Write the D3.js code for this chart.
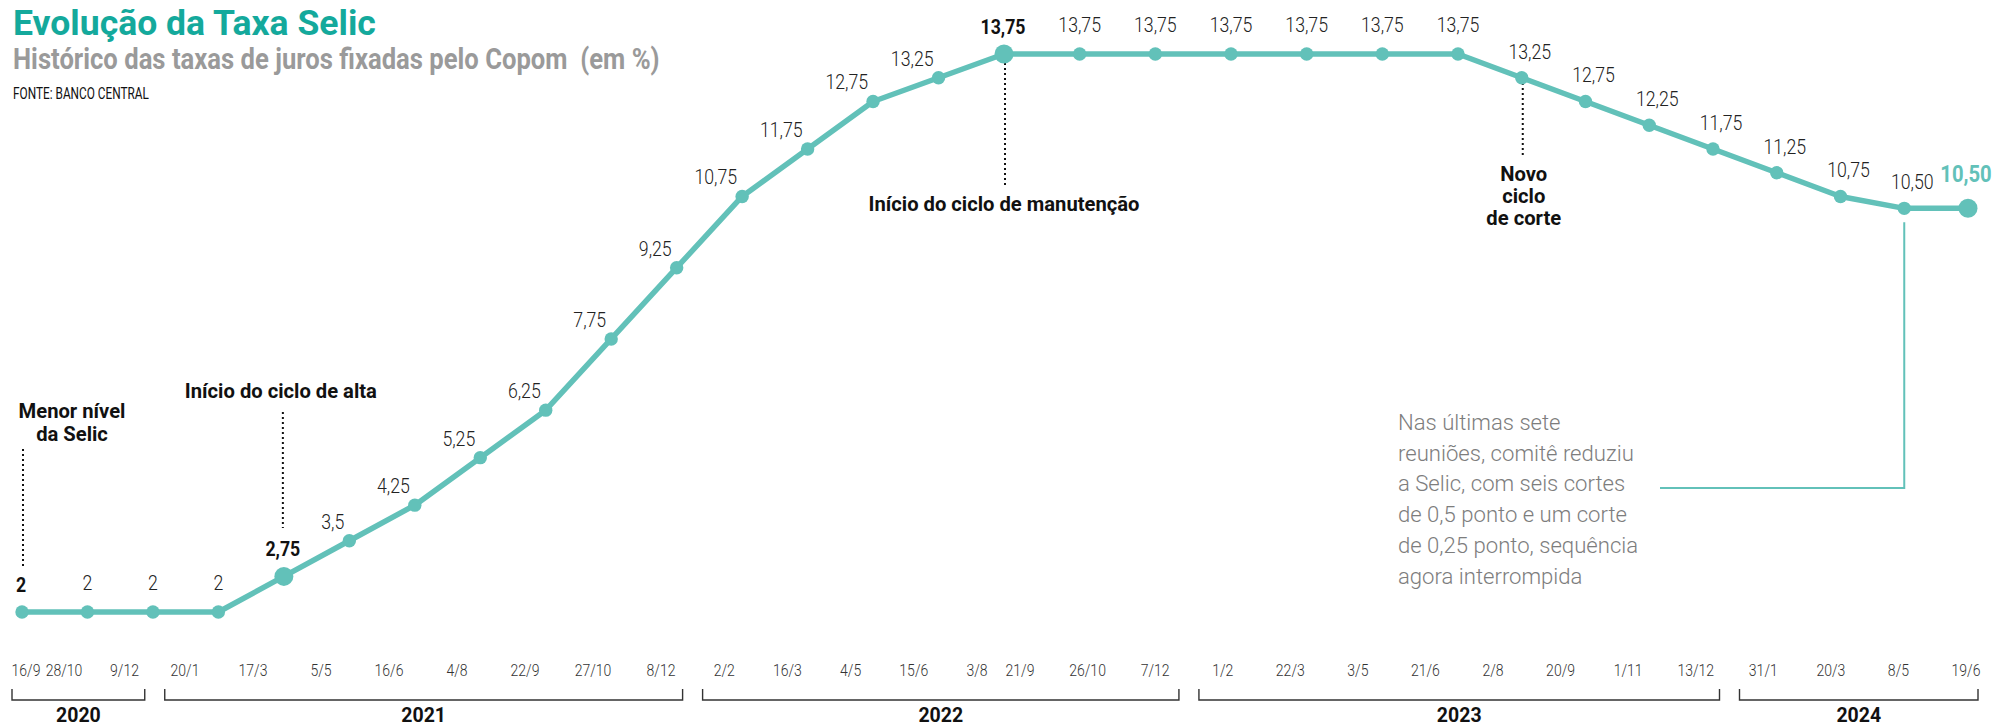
<!DOCTYPE html>
<html><head><meta charset="utf-8">
<script src="https://cdn.jsdelivr.net/npm/d3@7"></script>
<style>html,body{margin:0;padding:0;background:#fff}svg{display:block}text{white-space:pre}</style>
</head><body>
<svg id="chart" width="1996" height="727"></svg>
<script>
// ---------- data ----------
const values = [2,2,2,2,2.75,3.5,4.25,5.25,6.25,7.75,9.25,10.75,11.75,12.75,13.25,13.75,13.75,13.75,13.75,13.75,13.75,13.75,13.25,12.75,12.25,11.75,11.25,10.75,10.50,10.50];
const valueText = ["2","2","2","2","2,75","3,5","4,25","5,25","6,25","7,75","9,25","10,75","11,75","12,75","13,25","13,75","13,75","13,75","13,75","13,75","13,75","13,75","13,25","12,75","12,25","11,75","11,25","10,75","10,50","10,50"];
const dates = ["16/9","28/10","9/12","20/1","17/3","5/5","16/6","4/8","22/9","27/10","8/12","2/2","16/3","4/5","15/6","3/8","21/9","26/10","7/12","1/2","22/3","3/5","21/6","2/8","20/9","1/11","13/12","31/1","20/3","8/5","19/6"];
const years = ["2020","2021","2022","2023","2024"];
const yearCounts = [3,8,8,8,4];
const highlighted = [0,4,15,29];
const bigDots = [4,15,29];
const title = "Evolução da Taxa Selic";
const subtitle = "Histórico das taxas de juros fixadas pelo Copom  (em %)";
const source = "FONTE: BANCO CENTRAL";
const note = ["Nas últimas sete","reuniões, comitê reduziu","a Selic, com seis cortes","de 0,5 ponto e um corte","de 0,25 ponto, sequência","agora interrompida"];

// ---------- styles ----------
const TEAL = "#62c1b9", TITLE_TEAL = "#14a99c", INK = "#1a1a1a";
const FONT = "Roboto, 'Noto Sans', sans-serif";

const svg = d3.select("#chart");
svg.append("rect").attr("width",1996).attr("height",727).attr("fill","#fff");

function measure(str, size, weight){
  const t = svg.append("text").attr("font-family",FONT).attr("font-size",size).attr("font-weight",weight).text(str);
  const w = t.node().getComputedTextLength(); t.remove(); return w;
}
function txt(str, x, y, o){
  return svg.append("text")
    .attr("transform",`translate(${x},${y}) scale(${o.sx||1},1)`)
    .attr("font-family",FONT).attr("font-size",o.size).attr("font-weight",o.weight||400)
    .attr("fill",o.fill||INK).attr("text-anchor",o.anchor||"start").text(str);
}

// ---------- scales ----------
const x = d3.scaleLinear().domain([0,15,21,29]).range([22,1004,1458,1968]);
const y = d3.scaleLinear().domain([2,13.75]).range([612,54]);
const xd = d3.scaleLinear().domain([0,1,3,10,15,16,30]).range([26,64,185,661,977,1020,1966]);

// ---------- header ----------
txt(title, 13, 35, {size:35, weight:700, fill:TITLE_TEAL, sx:363/measure(title,35,700)});
txt(subtitle, 13, 68.5, {size:30, weight:700, fill:"#9a9a9a", sx:647/measure(subtitle,30,700)});
txt(source, 13, 99.3, {size:16, weight:400, fill:"#111", sx:136/measure(source,16,400)});

// ---------- annotations ----------
const annSx = 271/measure("Início do ciclo de manutenção",21,700);
const ann = {size:21, weight:700, fill:"#111", anchor:"middle", sx:annSx};
function dotted(xx, y1, y2){
  svg.append("line").attr("x1",xx).attr("x2",xx).attr("y1",y1).attr("y2",y2)
    .attr("stroke","#111").attr("stroke-width",2).attr("stroke-dasharray","2,3");
}
txt("Menor nível", x(0)+50, 418, ann);
txt("da Selic", x(0)+50, 441, ann);
dotted(x(0)+1, 449, 567);
txt("Início do ciclo de alta", x(4)-3, 398, ann);
dotted(x(4)-1, 412, 528);
txt("Início do ciclo de manutenção", x(15), 210.5, ann);
dotted(x(15)+1, y(13.75)+4, 185);
txt("Novo", x(22)+2, 181, ann);
txt("ciclo", x(22)+2, 203, ann);
txt("de corte", x(22)+2, 225, ann);
dotted(x(22)+1, 83, 157);

// note paragraph with connector
const noteSx = 236/measure(note[1],22.5,300);
note.forEach((l,i)=> txt(l, 1398, 430 + i*30.7, {size:22.5, weight:300, fill:"#7d7d7d", sx:noteSx}));
svg.append("path")
  .attr("d", d3.line()([[1660,488],[x(28),488],[x(28),y(10.5)+14]]))
  .attr("fill","none").attr("stroke",TEAL).attr("stroke-width",2);

// ---------- line + dots ----------
svg.append("path").datum(values)
  .attr("d", d3.line().x((d,i)=>x(i)).y(d=>y(d)))
  .attr("fill","none").attr("stroke",TEAL).attr("stroke-width",5.5).attr("stroke-linejoin","round");
svg.append("g").selectAll("circle").data(values).join("circle")
  .attr("cx",(d,i)=>x(i)).attr("cy",d=>y(d))
  .attr("r",(d,i)=> bigDots.includes(i) ? 9.5 : 6.7)
  .attr("fill",TEAL);

// ---------- value labels ----------
const valSx = 42.7/measure("13,75",21,300);
values.forEach((v,i)=>{
  const px = x(i), py = y(v);
  const prev = i>0 ? values[i-1] : v;
  if (i === values.length-1){
    txt(valueText[i], px-2, py-26, {size:24, weight:700, fill:TEAL, anchor:"middle", sx:valSx});
  } else if (highlighted.includes(i)){
    txt(valueText[i], px-1, py-20, {size:21, weight:700, fill:"#111", anchor:"middle", sx:valSx});
  } else if (v > prev){
    txt(valueText[i], px-5, py-12, {size:21, weight:300, fill:"#222", anchor:"end", sx:valSx});
  } else if (v < prev){
    txt(valueText[i], px+8, py-19, {size:21, weight:300, fill:"#222", anchor:"middle", sx:valSx});
  } else {
    txt(valueText[i], px, py-22, {size:21, weight:300, fill:"#222", anchor:"middle", sx:valSx});
  }
});

// ---------- date axis ----------
const dateSx = 36.7/measure("26/10",17,300);
dates.forEach((d,i)=> txt(d, xd(i), 676, {size:17, weight:300, fill:"#333", anchor:"middle", sx:dateSx}));

const yearSx = 44.7/measure("2022",21,700);
const bounds = [];
let start = 0;
yearCounts.forEach(c=>{ bounds.push([start, start+c-1]); start += c; });
bounds.forEach(([s,e],k)=>{
  const x1 = k===0 ? xd(s)-14 : (xd(bounds[k-1][1]) + xd(s))/2 + 10;
  const x2 = k===bounds.length-1 ? xd(e)+12 : (xd(e) + xd(bounds[k+1][0]))/2 - 10;
  svg.append("path").attr("d", d3.line()([[x1,689],[x1,700],[x2,700],[x2,689]]))
    .attr("fill","none").attr("stroke","#333").attr("stroke-width",1.4);
  txt(years[k], (x1+x2)/2, 722, {size:21, weight:700, fill:"#111", anchor:"middle", sx:yearSx});
});
</script>
</body></html>
